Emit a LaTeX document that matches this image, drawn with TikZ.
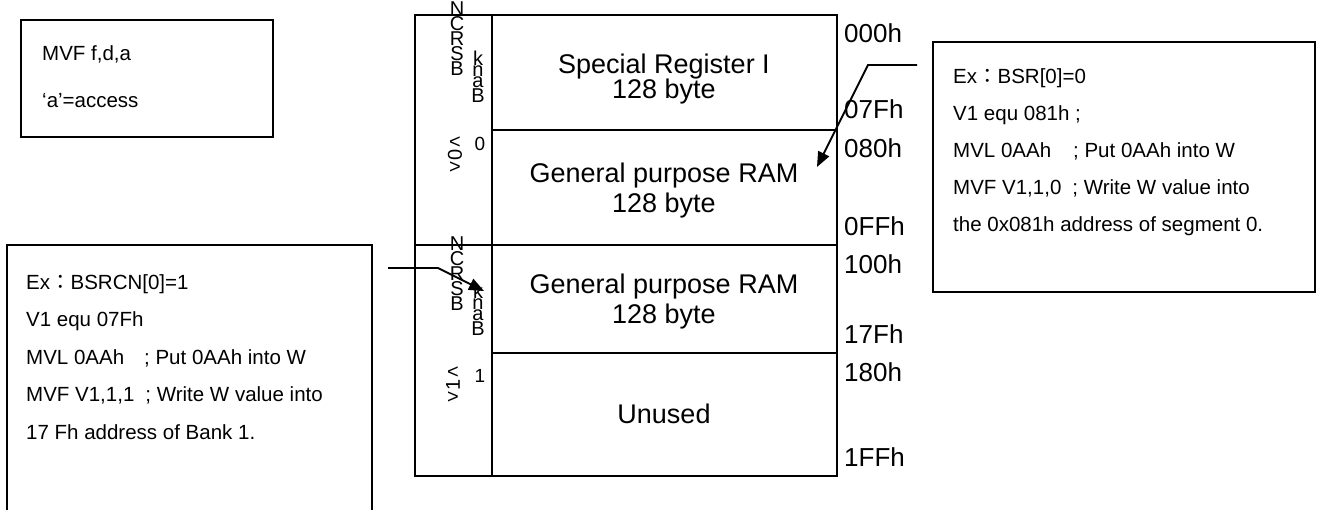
\documentclass[tikz,border=0pt]{standalone}
\usepackage{fontspec}
\usepackage{graphicx}
\setmainfont{Liberation Sans}
\newfontfamily\cjk{Noto Sans CJK TC}
\usetikzlibrary{arrows.meta}
\newcommand\memfont{\fontsize{27}{24}\selectfont}
\newcommand\adrfont{\fontsize{26}{24}\selectfont}
\newcommand\notefont{\fontsize{20.5}{24}\selectfont}

\begin{document}
\begin{tikzpicture}[x=1pt, y=-1pt,
    mem/.style={line width=1.3pt},
    notebox/.style={line width=2pt},
    pointer/.style={line width=1.9pt, -{Triangle[length=15pt,width=12pt]}},
    cell/.style={anchor=base, inner sep=0pt, font=\memfont},
    addr/.style={anchor=base west, inner sep=0pt, font=\adrfont},
    note/.style={anchor=base west, inner sep=0pt, font=\notefont},
    tag/.style={anchor=north, inner sep=0pt, align=center}]
    \useasboundingbox (0,0) rectangle (1317,509);
    % memory map
    \draw[mem] (415,15) rectangle (837,476);
    \draw[mem] (492,15) -- (492,476);
    \draw[mem] (492,130) -- (837,130);
    \draw[mem] (415,245) -- (837,245);
    \draw[mem] (492,353) -- (837,353);
    % cell texts
    \node[cell] (sfr1) at (664,73) {Special Register I};
    \node[cell] (sfr2) at (664,98) {128 byte};
    \node[cell] (gpa1) at (664,182) {General purpose RAM};
    \node[cell] (gpa2) at (664,212) {128 byte};
    \node[cell] (gpb1) at (664,293) {General purpose RAM};
    \node[cell] (gpb2) at (664,323) {128 byte};
    \node[cell] (unused) at (664,423) {Unused};
    % addresses
    \foreach \y/\a in {42/000h,118/07Fh,157/080h,235/0FFh,273/100h,343/17Fh,381/180h,466/1FFh}{
      \node[addr] (adr\a) at (844,\y) {\a};
    }
    % left column tags
    \node[tag, font={\fontsize{20}{15}\selectfont}] (bsrcnA) at (457,2) {N\\C\\R\\S\\B};
    \node[tag, font={\fontsize{20}{11}\selectfont}] (bankA) at (478,51) {k\\n\\a\\B};
    \node[tag, font={\fontsize{20}{11}\selectfont}] (segA) at (455,137) {<\\\rotatebox{90}{0}\\>};
    \node[anchor=base, inner sep=0pt, font={\fontsize{19}{19}\selectfont}] (numA) at (480,150) {0};
    \node[tag, font={\fontsize{20}{15}\selectfont}] (bsrcnB) at (457,237) {N\\C\\R\\S\\B};
    \node[tag, font={\fontsize{20}{11}\selectfont}] (bankB) at (478,284) {k\\n\\a\\B};
    \node[tag, font={\fontsize{20}{11}\selectfont}] (segB) at (453,367) {<\\\rotatebox{90}{1}\\>};
    \node[anchor=base, inner sep=0pt, font={\fontsize{19}{19}\selectfont}] (numB) at (480,382) {1};
    % instruction format
    \draw[notebox] (21,20) rectangle (273,137);
    \node[note] (fmt1) at (42,60) {MVF f,d,a};
    \node[note] (fmt2) at (42,107) {‘a’=access};
    % example BSR = 0
    \draw[notebox] (933,42) rectangle (1315,292);
    \node[note] (bsr1) at (953,83) {Ex{\cjk：}BSR[0]=0};
    \node[note] (bsr2) at (953,120) {V1 equ 081h ;};
    \node[note] (bsr3) at (953,157) {MVL 0AAh\hspace{22pt}; Put 0AAh into W};
    \node[note] (bsr4) at (953,194) {MVF V1,1,0\hspace{11pt}; Write W value into};
    \node[note] (bsr5) at (953,231) {the 0x081h address of segment 0.};
    % example BSRCN = 1
    \draw[notebox] (7,512) -- (7,245) -- (372,245) -- (372,512);
    \node[note] (bcn1) at (26,289) {Ex{\cjk：}BSRCN[0]=1};
    \node[note] (bcn2) at (26,326) {V1 equ 07Fh};
    \node[note] (bcn3) at (26,364) {MVL 0AAh\hspace{20pt}; Put 0AAh into W};
    \node[note] (bcn4) at (26,401) {MVF V1,1,1\hspace{11pt}; Write W value into};
    \node[note] (bcn5) at (26,439) {17 Fh address of Bank 1.};
    % pointers
    \coordinate (bsrFrom) at (917,65);
    \coordinate (bsrBend) at (868,65);
    \coordinate (bsrTo) at (817,167);
    \draw[pointer] (bsrFrom) -- (bsrBend) -- (bsrTo);
    \coordinate (bcnFrom) at (388,268);
    \coordinate (bcnBend) at (438,268);
    \coordinate (bcnTo) at (484,291);
    \draw[pointer] (bcnFrom) -- (bcnBend) -- (bcnTo);
\end{tikzpicture}
\end{document}
